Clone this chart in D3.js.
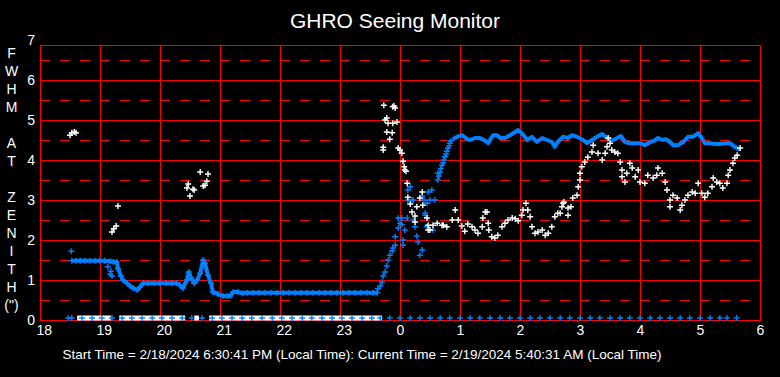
<!DOCTYPE html>
<html>
<head>
<meta charset="utf-8">
<script src="https://cdn.jsdelivr.net/npm/d3@7"></script>
<style>
  body { margin: 0; background: #000; }
  svg { display: block; font-family: "Liberation Sans", Arial, sans-serif; }
</style>
</head>
<body>
<div id="chart"></div>
<script>
// hours after midnight run on past 24 (24.5 = 0:30 next morning)
const xTicks = [18, 19, 20, 21, 22, 23, 24, 25, 26, 27, 28, 29, 30];
const xTickLabels = ["18", "19", "20", "21", "22", "23", "0", "1", "2", "3", "4", "5", "6"];
const yTicks = [0, 1, 2, 3, 4, 5, 6, 7];
const yHalfLines = [0.5, 1.5, 2.5, 3.5, 4.5, 5.5, 6.5];
const yTitleLetters = ["F", "W", "H", "M", "", "A", "T", "", "Z", "E", "N", "I", "T", "H", "(\")"];

// blue seeing trace, evening part
const blueEarly = [
  [18.53,1.48],[18.6,1.48],[18.67,1.48],[18.75,1.48],[18.83,1.48],[18.92,1.48],[19.0,1.48],
  [19.08,1.48],[19.17,1.47],[19.22,1.45],[19.28,1.45],[19.3,1.28],[19.35,1.1],[19.38,1.0],
  [19.45,0.92],[19.5,0.85],[19.55,0.8],[19.62,0.75],[19.67,0.83],[19.72,0.92],[19.8,0.92],
  [19.9,0.92],[20.0,0.92],[20.1,0.92],[20.2,0.92],[20.28,0.92],[20.33,0.87],[20.38,0.8],
  [20.45,1.0],[20.48,1.2],[20.52,1.05],[20.57,0.92],[20.62,1.0],[20.67,1.17],[20.72,1.5],
  [20.75,1.42],[20.8,1.12],[20.85,0.92],[20.88,0.7],[20.97,0.65],[21.05,0.6],[21.12,0.6],
  [21.17,0.6],[21.22,0.7],[21.3,0.7],[21.38,0.67],[21.45,0.68],[21.55,0.68],[21.65,0.68],
  [21.75,0.68],[21.85,0.68],[21.95,0.68],[22.05,0.68],[22.15,0.68],[22.25,0.68],[22.35,0.68],
  [22.45,0.68],[22.55,0.68],[22.65,0.68],[22.75,0.68],[22.85,0.68],[22.95,0.68],[23.05,0.68],
  [23.15,0.68],[23.25,0.68],[23.35,0.68],[23.45,0.68],[23.55,0.68],[23.62,0.68]
];

// blue seeing trace, morning part
const blueLate = [
  [24.88,4.52],[24.95,4.58],[25.03,4.62],[25.12,4.52],[25.17,4.5],[25.25,4.55],[25.33,4.55],
  [25.42,4.48],[25.47,4.42],[25.5,4.5],[25.55,4.62],[25.62,4.62],[25.67,4.55],[25.75,4.55],
  [25.83,4.62],[25.92,4.7],[25.97,4.75],[26.03,4.67],[26.12,4.5],[26.2,4.58],[26.28,4.45],
  [26.37,4.55],[26.45,4.5],[26.53,4.45],[26.58,4.33],[26.63,4.45],[26.72,4.58],[26.8,4.55],
  [26.87,4.62],[26.95,4.58],[27.03,4.52],[27.12,4.42],[27.2,4.5],[27.28,4.58],[27.37,4.65],
  [27.45,4.55],[27.53,4.48],[27.62,4.55],[27.68,4.6],[27.75,4.45],[27.83,4.42],[27.92,4.42],
  [28.0,4.42],[28.08,4.37],[28.17,4.45],[28.23,4.48],[28.3,4.55],[28.37,4.5],[28.43,4.52],
  [28.5,4.45],[28.55,4.37],[28.63,4.37],[28.72,4.45],[28.8,4.58],[28.88,4.58],[28.97,4.67],
  [29.03,4.55],[29.08,4.42],[29.17,4.42],[29.25,4.4],[29.33,4.4],[29.42,4.42],[29.5,4.42],
  [29.58,4.33],[29.67,4.25]
];

// loose blue readings
const blueScatter = [
  [18.52,1.72],[19.13,1.33],[19.17,1.15],[19.2,1.1],[19.18,1.22],
  [23.63,0.78],[23.67,0.85],[23.7,0.95],[23.72,1.1],[23.75,1.2],[23.78,1.35],[23.8,1.5],
  [23.83,1.62],[23.87,1.73],[23.88,1.8],[23.92,1.87],[23.92,2.08],[23.97,2.3],[24.0,2.42],
  [23.97,2.55],[24.03,2.55],[24.12,2.55],[24.08,2.25],[24.05,2.0],[24.05,1.87],[24.03,2.38],
  [24.22,2.5],[24.25,2.33],[24.28,2.1],[24.3,1.95],[24.37,1.75],[24.33,1.62],[24.42,2.62],
  [24.45,2.33],[24.55,2.25],[24.13,3.0],[24.17,3.33],[24.13,3.25],[24.2,3.0],[24.22,3.0],
  [24.45,2.92],[24.47,3.2],[24.53,3.25],[24.58,3.0],[24.5,3.0],[24.42,2.67],[24.63,3.67],
  [24.37,3.1],[24.4,3.0],
  [24.63,3.5],[24.65,3.6],[24.67,3.7],[24.68,3.78],[24.7,3.87],[24.72,3.93],[24.73,4.0],
  [24.75,4.08],[24.77,4.15],[24.78,4.22],[24.8,4.3],[24.82,4.36],[24.83,4.42],[24.85,4.48]
];

// blue marks on the floor, one every ten minutes
const blueFloorTimes = [
  18.47,18.53,18.70,18.87,19.03,19.20,19.37,19.53,19.70,19.87,20.03,20.20,20.37,20.53,20.70,
  20.87,21.03,21.20,21.37,21.53,21.70,21.87,22.03,22.20,22.37,22.53,22.70,22.87,23.03,23.20,
  23.37,23.53,23.67,23.83,24.00,24.17,24.33,24.50,24.67,24.83,25.00,25.17,25.33,25.50,25.67,
  25.83,26.00,26.17,26.33,26.50,26.67,26.83,27.00,27.17,27.33,27.50,27.67,27.83,28.00,28.17,
  28.33,28.50,28.67,28.83,29.00,29.17,29.33,29.45,29.61
];
const floorLevel = 0.05;

// white readings
const whitePoints = [
  [18.5,4.62],[18.53,4.68],[18.57,4.7],[18.6,4.68],
  [19.2,2.2],[19.23,2.28],[19.27,2.35],[19.3,2.85],
  [20.45,3.3],[20.47,3.4],[20.5,3.1],[20.55,3.27],[20.57,3.25],[20.67,3.7],[20.72,3.35],
  [20.75,3.37],[20.78,3.47],[20.8,3.65],
  [23.73,5.37],[23.88,5.33],[23.9,5.35],[23.92,5.3],[23.78,5.05],[23.75,5.0],[23.8,4.92],
  [23.88,4.92],[23.95,4.95],[23.78,4.7],[23.87,4.68],[23.83,4.52],[23.72,4.32],[23.72,4.25],
  [23.97,4.3],[24.0,4.25],[24.03,4.17],[24.05,3.97],[24.07,3.83],[24.08,3.75],[24.1,3.72],
  [24.12,3.42],[24.13,3.07],[24.17,2.9],[24.2,2.7],[24.25,2.6],[24.25,2.45],[24.28,2.83],
  [24.33,3.05],[24.37,3.2],[24.38,2.87],[24.45,2.55],[24.47,2.37],[24.47,2.25],[24.5,2.25],
  [24.55,2.37],[24.62,2.42],[24.7,2.37],[24.72,2.37],[24.78,2.33],[24.87,2.5],[24.92,2.75],
  [24.97,2.5],[25.03,2.35],[25.08,2.22],[25.13,2.4],[25.2,2.33],[25.25,2.25],[25.3,2.17],
  [25.37,2.33],[25.38,2.55],[25.42,2.7],[25.45,2.7],[25.47,2.42],[25.48,2.25],[25.53,2.08],
  [25.58,2.05],[25.63,2.12],[25.7,2.33],[25.75,2.42],[25.8,2.5],[25.87,2.55],[25.92,2.53],
  [25.97,2.48],[26.03,2.62],[26.05,2.75],[26.1,2.92],[26.13,2.75],[26.17,2.58],[26.2,2.33],
  [26.25,2.17],[26.3,2.2],[26.37,2.25],[26.42,2.12],[26.47,2.17],[26.53,2.33],[26.58,2.58],
  [26.63,2.67],[26.67,2.67],[26.7,2.83],[26.72,2.92],[26.73,2.95],[26.8,2.62],[26.8,2.8],
  [26.85,2.83],[26.88,3.05],[26.95,3.12],[26.97,3.33],[27.0,3.5],[27.0,3.67],[27.03,3.83],
  [27.08,3.95],[27.13,4.07],[27.2,4.2],[27.22,4.37],[27.3,4.17],[27.37,4.0],[27.42,4.17],
  [27.45,4.33],[27.47,4.55],[27.5,4.42],[27.53,4.25],[27.58,4.2],[27.63,4.17],[27.67,3.95],
  [27.7,3.75],[27.7,3.58],[27.75,3.45],[27.78,3.67],[27.83,3.92],[27.87,3.8],[27.92,3.58],
  [27.97,3.75],[28.0,3.45],[28.08,3.42],[28.13,3.62],[28.22,3.55],[28.28,3.62],[28.3,3.8],
  [28.37,3.67],[28.42,3.45],[28.45,3.25],[28.5,3.0],[28.5,2.83],[28.55,3.12],[28.62,3.05],
  [28.67,2.75],[28.7,2.87],[28.75,3.0],[28.8,3.12],[28.87,3.2],[28.92,3.17],[28.97,3.42],
  [29.03,3.17],[29.08,3.07],[29.13,3.17],[29.2,3.33],[29.22,3.55],[29.28,3.45],[29.33,3.42],
  [29.38,3.3],[29.45,3.42],[29.47,3.62],[29.5,3.75],[29.55,3.92],[29.58,4.05],[29.62,4.12],
  [29.67,4.3]
];

// stretches where the white reading sits on the floor
const whiteFloorSpans = [[18.62, 19.18], [19.32, 20.42], [20.57, 20.65], [20.82, 23.7]];

const width = 780, height = 377;
const plot = { left: 40, right: 760, top: 45, bottom: 320 };
const red = "#ff0000", blue = "#0080ff";

const svg = d3.select("#chart").append("svg")
  .attr("width", width)
  .attr("height", height)
  .style("background", "#000");

const x = d3.scaleLinear().domain([18, 30]).range([plot.left, plot.right]);
const y = d3.scaleLinear().domain([0, 7]).range([plot.bottom, 40]);

svg.append("text")
  .attr("x", 395).attr("y", 28)
  .attr("text-anchor", "middle")
  .attr("fill", "#fff")
  .style("font-size", "21px")
  .text("GHRO Seeing Monitor");

// grid
let grid = svg.append("g").attr("shape-rendering", "crispEdges");
grid.selectAll("line.half").data(yHalfLines).enter().append("line")
  .attr("x1", plot.left).attr("x2", plot.right)
  .attr("y1", d => Math.round(y(d)) + 0.5).attr("y2", d => Math.round(y(d)) + 0.5)
  .attr("stroke", red).attr("stroke-dasharray", "10,10");
grid.selectAll("line.full").data(yTicks.filter(d => d > 0 && d < 7)).enter().append("line")
  .attr("x1", plot.left).attr("x2", plot.right)
  .attr("y1", d => Math.round(y(d)) + 0.5).attr("y2", d => Math.round(y(d)) + 0.5)
  .attr("stroke", red);
grid.selectAll("line.vert").data(xTicks).enter().append("line")
  .attr("x1", d => Math.round(x(d)) + 0.5).attr("x2", d => Math.round(x(d)) + 0.5)
  .attr("y1", plot.top).attr("y2", plot.bottom)
  .attr("stroke", red);
grid.append("line")
  .attr("x1", plot.left).attr("x2", plot.right + 1)
  .attr("y1", plot.top + 0.5).attr("y2", plot.top + 0.5).attr("stroke", red);
grid.append("line")
  .attr("x1", plot.left).attr("x2", plot.right + 1)
  .attr("y1", plot.bottom + 0.5).attr("y2", plot.bottom + 0.5).attr("stroke", red);

// axes
let xAxis = svg.append("g")
  .attr("transform", `translate(0, ${plot.bottom})`)
  .call(d3.axisBottom(x).tickValues(xTicks).tickSize(0).tickPadding(5)
    .tickFormat((d, i) => xTickLabels[i]));
let yAxis = svg.append("g")
  .attr("transform", `translate(${plot.left}, 0)`)
  .call(d3.axisLeft(y).tickValues(yTicks).tickSize(0).tickPadding(5).tickFormat(d3.format("d")));
[xAxis, yAxis].forEach(a => {
  a.select(".domain").remove();
  a.selectAll("text").attr("fill", "#fff")
    .style("font-size", "14px")
    .style("font-family", "'Liberation Sans', Arial, sans-serif");
});
xAxis.selectAll("text").attr("text-anchor", "start").attr("dx", -4);

svg.append("g").selectAll("text").data(yTitleLetters).enter().append("text")
  .attr("x", 11.5)
  .attr("y", (d, i) => 58 + i * 18)
  .attr("text-anchor", "middle")
  .attr("fill", "#fff")
  .style("font-size", "14px")
  .text(d => d);

// data
const cross = "M-3,0H3M0,-3V3";
function drawMarks(g, data, colour) {
  g.selectAll("path.m").data(data).enter().append("path")
    .attr("class", "m")
    .attr("d", cross)
    .attr("transform", d => `translate(${x(d[0])},${y(d[1])})`)
    .attr("stroke", colour)
    .attr("stroke-width", 1.4)
    .attr("fill", "none");
}

let line = d3.line().x(d => x(d[0])).y(d => y(d[1]));
let blueG = svg.append("g");
[blueEarly, blueLate].forEach(track => {
  blueG.append("path")
    .datum(track)
    .attr("d", line)
    .attr("fill", "none")
    .attr("stroke", blue)
    .attr("stroke-width", 4)
    .attr("stroke-linejoin", "round");
  drawMarks(blueG, track, blue);
});
drawMarks(blueG.append("g"), blueScatter, blue);

svg.append("g").selectAll("line").data(whiteFloorSpans).enter().append("line")
  .attr("x1", d => x(d[0])).attr("x2", d => x(d[1]))
  .attr("y1", y(floorLevel)).attr("y2", y(floorLevel))
  .attr("stroke", "#fff").attr("stroke-width", 5);

drawMarks(svg.append("g"), blueFloorTimes.map(t => [t, floorLevel]), blue);
drawMarks(svg.append("g"), whitePoints, "#fff");

svg.append("text")
  .attr("x", 362).attr("y", 359)
  .attr("text-anchor", "middle")
  .attr("fill", "#fff")
  .style("font-size", "13.5px")
  .text("Start Time = 2/18/2024 6:30:41 PM (Local Time): Current Time = 2/19/2024 5:40:31 AM (Local Time)");
</script>
</body>
</html>
